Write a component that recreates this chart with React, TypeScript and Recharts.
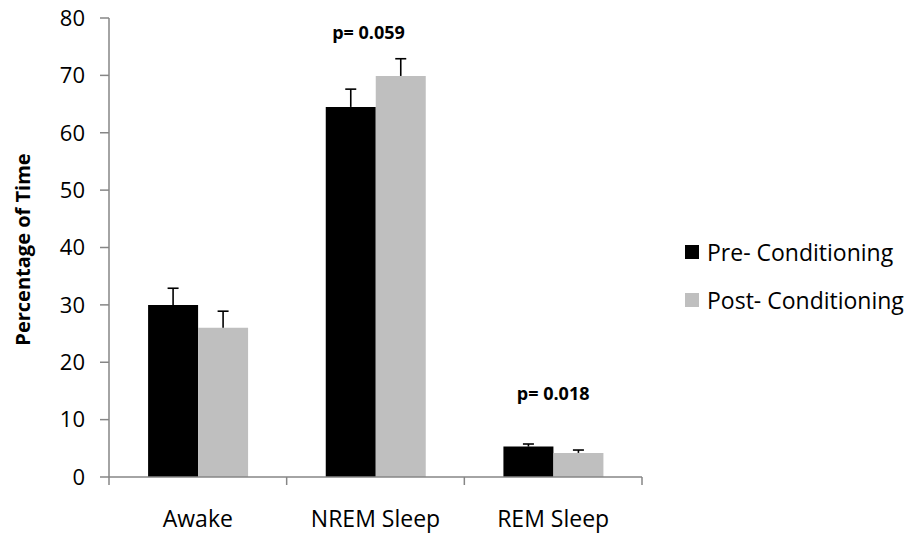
import { BarChart, Bar, XAxis, YAxis, ReferenceDot } from "recharts";

const categories = ["Awake", "NREM Sleep", "REM Sleep"];
const preValues = [30, 64.5, 5.3];
const preErrors = [2.9, 3.1, 0.45];
const postValues = [26, 69.9, 4.2];
const postErrors = [2.9, 3.0, 0.5];
const yTicks = [0, 10, 20, 30, 40, 50, 60, 70, 80];

const seriesNames = ["Pre- Conditioning", "Post- Conditioning"];
const seriesColors = ["#000000", "#bfbfbf"];

// p-value notes: category, text, height in chart units
const pNotes = [
  { cat: "NREM Sleep", text: "p= 0.059", y: 77.4, dx: -7 },
  { cat: "REM Sleep", text: "p= 0.018", y: 14.5, dx: 0 },
];

const data = categories.map((name, i) => ({
  name,
  pre: preValues[i],
  preErr: preErrors[i],
  post: postValues[i],
  postErr: postErrors[i],
}));

const FONT = "'Open Sans', sans-serif";
const AXIS = "#868686";

// draws the upper half of an error bar as a "T"
function ErrorT(props: any) {
  const { x, y, width, height } = props;
  if (x == null || y == null) return null;
  const cx = x + width / 2;
  return (
    <g stroke="#000" strokeWidth={1.6}>
      <line x1={cx} y1={y + height} x2={cx} y2={y} />
      <line x1={cx - 5.5} y1={y} x2={cx + 5.5} y2={y} />
    </g>
  );
}

function CategoryTick(props: any) {
  const { x, y, payload, index } = props;
  const half = payload && payload.offset ? payload.offset : 89;
  return (
    <g>
      <line x1={x + half} y1={y} x2={x + half} y2={y + 8} stroke={AXIS} strokeWidth={1.5} />
      {index === 0 && (
        <line x1={x - half} y1={y} x2={x - half} y2={y + 8} stroke={AXIS} strokeWidth={1.5} />
      )}
      <text x={x} y={y + 50} textAnchor="middle" fontSize={23} fontFamily={FONT} fill="#000">
        {payload.value}
      </text>
    </g>
  );
}

function YTitle(props: any) {
  const vb = props.viewBox || { x: 0, y: 0, height: 0 };
  const cx = vb.x + 22;
  const cy = vb.y + vb.height / 2 + 2;
  return (
    <text
      x={cx}
      y={cy}
      transform={`rotate(-90, ${cx}, ${cy})`}
      textAnchor="middle"
      dominantBaseline="central"
      fontSize={20}
      fontWeight="bold"
      fontFamily={FONT}
      fill="#000"
    >
      Percentage of Time
    </text>
  );
}

export default function App() {
  return (
    <div style={{ position: "absolute", left: 0, top: 0, width: 912, height: 538, background: "#fff" }}>
      <BarChart
        width={912}
        height={538}
        data={data}
        margin={{ top: 18, right: 270, left: 0, bottom: 0 }}
        barCategoryGap="22%"
        barGap={0}
      >
        <XAxis
          dataKey="name"
          height={61}
          stroke={AXIS}
          strokeWidth={1.5}
          tickLine={false}
          tickSize={0}
          tickMargin={0}
          tick={<CategoryTick />}
          interval={0}
        />
        <YAxis
          width={109}
          domain={[0, 80]}
          ticks={yTicks}
          interval={0}
          stroke={AXIS}
          strokeWidth={1.5}
          tickSize={9}
          tickMargin={15}
          tick={{ fontSize: 22, fontFamily: FONT, fill: "#000" }}
          label={{ content: (p: any) => <YTitle {...p} /> }}
        />
        <Bar dataKey="pre" stackId="pre" fill={seriesColors[0]} isAnimationActive={false} />
        <Bar dataKey="preErr" stackId="pre" shape={<ErrorT />} isAnimationActive={false} />
        <Bar dataKey="post" stackId="post" fill={seriesColors[1]} isAnimationActive={false} />
        <Bar dataKey="postErr" stackId="post" shape={<ErrorT />} isAnimationActive={false} />
        {pNotes.map((n) => (
          <ReferenceDot
            key={n.cat}
            x={n.cat}
            y={n.y}
            r={0}
            fill="none"
            stroke="none"
            label={{
              value: n.text,
              position: "center",
              dx: n.dx,
              fontSize: 18,
              fontWeight: "bold",
              fontFamily: FONT,
              fill: "#000",
            }}
          />
        ))}
      </BarChart>
      <div style={{ position: "absolute", left: 685, top: 233, fontFamily: FONT, fontSize: 23, color: "#000" }}>
        {seriesNames.map((name, i) => (
          <div key={name} style={{ display: "flex", alignItems: "center", height: 38, marginBottom: 10 }}>
            <span style={{ width: 14, height: 14, background: seriesColors[i], marginRight: 8, display: "inline-block" }} />
            <span style={{ whiteSpace: "nowrap" }}>{name}</span>
          </div>
        ))}
      </div>
    </div>
  );
}
